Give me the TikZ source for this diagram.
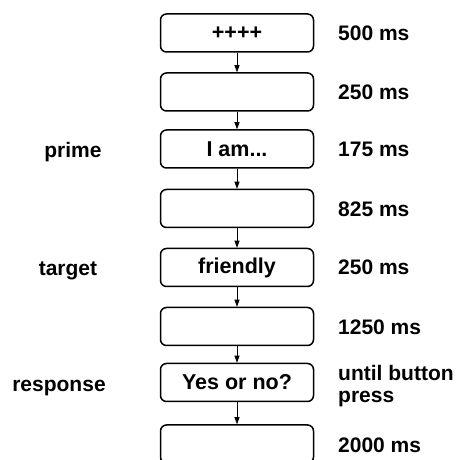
\documentclass[tikz,border=0pt]{standalone}
\usepackage{fontspec}
\setmainfont{Liberation Sans}
\usetikzlibrary{arrows.meta}
\tikzset{
  screen/.style={draw, line width=1.5pt, rounded corners=6pt, fill=white,
    minimum width=153pt, minimum height=38pt, inner sep=0pt,
    font=\fontsize{21.5}{24}\selectfont\bfseries},
  durlab/.style={anchor=base west, inner sep=0pt, align=left,
    font=\fontsize{21}{22}\selectfont\bfseries},
  phaselab/.style={anchor=base, inner sep=0pt,
    font=\fontsize{21}{22}\selectfont\bfseries},
  flow/.style={line width=0.8pt, -{Triangle[length=7pt,width=5pt]}}
}
\newcommand{\trialscreen}[3]{\node[screen] (#1) at (237, #2) {#3};}
\newcommand{\durlabel}[3]{\node[durlab] (#1) at (338, #2) {#3};}
\newcommand{\phaselabel}[4]{\node[phaselab] (#1) at ( #2 , #3 ) {#4};}

\begin{document}
\begin{tikzpicture}[x=1pt, y=1pt]
\useasboundingbox (0,0) rectangle (455,460);
% screens of one trial
\trialscreen{fix}{427}{++++}
\trialscreen{blankA}{368}{}
\trialscreen{prime}{311}{I am...}
\trialscreen{blankB}{251.5}{}
\trialscreen{target}{192.5}{friendly}
\trialscreen{blankC}{133.5}{}
\trialscreen{resp}{77.5}{Yes or no?}
\trialscreen{blankD}{16}{}
% arrows between screens
\draw[flow] (fix.south) -- (blankA.north);
\draw[flow] (blankA.south) -- (prime.north);
\draw[flow] (prime.south) -- (blankB.north);
\draw[flow] (blankB.south) -- (target.north);
\draw[flow] (target.south) -- (blankC.north);
\draw[flow] (blankC.south) -- (resp.north);
\draw[flow] (resp.south) -- (blankD.north);
% durations
\durlabel{dfix}{419.5}{500 ms}
\durlabel{dblankA}{360.5}{250 ms}
\durlabel{dprime}{303}{175 ms}
\durlabel{dblankB}{243}{825 ms}
\durlabel{dtarget}{185}{250 ms}
\durlabel{dblankC}{125}{1250 ms}
\durlabel{dblankD}{7.5}{2000 ms}
\node[durlab, anchor=north west] (dresp) at (338, 95) {until button\\press};
% phase labels
\phaselabel{lprime}{73}{302}{prime}
\phaselabel{ltarget}{68}{184}{target}
\phaselabel{lresp}{59}{68}{response}
\end{tikzpicture}
\end{document}
